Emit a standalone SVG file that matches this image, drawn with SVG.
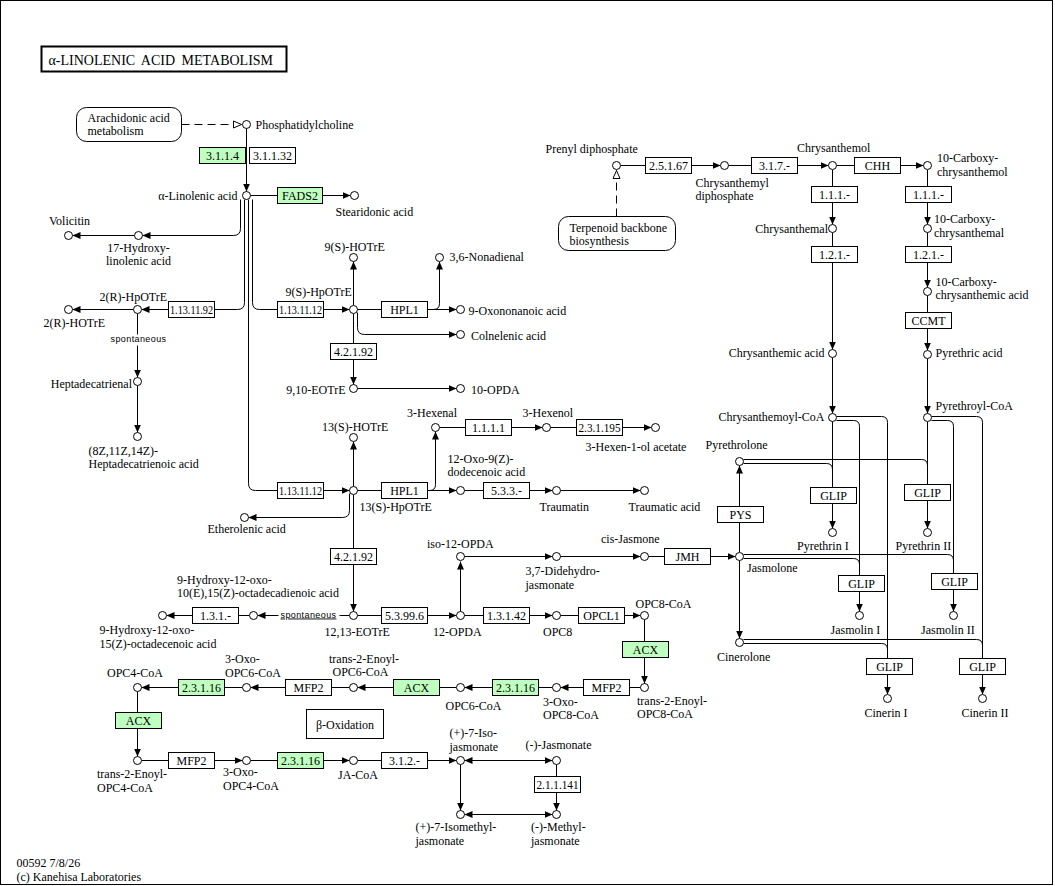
<svg xmlns="http://www.w3.org/2000/svg" width="1055" height="886" viewBox="0 0 1055 886">
<defs>
<marker id="ar" markerWidth="8" markerHeight="7" refX="8" refY="3.5" orient="auto-start-reverse" markerUnits="userSpaceOnUse"><path d="M0,0L8,3.5L0,7z" fill="#000"/></marker>
<marker id="op" markerWidth="10" markerHeight="9" refX="9" refY="4.5" orient="auto" markerUnits="userSpaceOnUse"><path d="M1,1L9,4.5L1,8z" fill="#fff" stroke="#000"/></marker>
</defs>
<style>
text{font-family:"Liberation Serif","Times New Roman",serif;font-size:12px;fill:#000}
.c{fill:#fff;stroke:#000;stroke-width:1}
.e{fill:#fff;stroke:#000;stroke-width:1}
.g{fill:#bfffbf;stroke:#000;stroke-width:1}
.t{text-anchor:middle}
.r{text-anchor:end}
.l{fill:none;stroke:#000;stroke-width:1}
.a{marker-end:url(#ar)}
.d{marker-start:url(#ar);marker-end:url(#ar)}
.dash{stroke-dasharray:8,5;marker-end:url(#op)}
.map{fill:#fff;stroke:#000;stroke-width:1}
.sp{font-family:"Liberation Sans",Arial,sans-serif;font-size:9px;letter-spacing:0.4px}
</style>
<rect x="0" y="0" width="1055" height="886" fill="#fff"/>
<g transform="translate(0.5,0.5)">
<rect x="0" y="0" width="1052" height="884" fill="none" stroke="#000"/>
<g id="title">
<rect x="41" y="46" width="245" height="25" fill="#fff" stroke="#000" stroke-width="2"/>
<text x="48" y="64" style="font-size:14px;word-spacing:3px">α-LINOLENIC ACID METABOLISM</text>
</g>
<g id="footer">
<text><tspan x="16" y="866.8">00592 7/8/26</tspan><tspan x="16" dy="13.4">(c) Kanehisa Laboratories</tspan></text>
</g>

<g id="connectors">
<path class="l dash" d="M181,124H241"/>
<path class="l dash" d="M616,216V170"/>
<path class="l a" d="M246,128V191"/>
<path class="l" d="M250,195H277"/><path class="l a" d="M322,195H350"/>
<path class="l a" d="M240,199V228Q240,235 233,235H142"/>
<path class="l a" d="M134,235H72"/>
<path class="l" d="M244,199V302Q244,309 237,309H214"/><path class="l a" d="M168,309H141"/>
<path class="l" d="M252,199V302Q252,309 259,309H277"/><path class="l a" d="M323,309H349"/>
<path class="l" d="M248,199V483Q248,490 255,490H277"/><path class="l a" d="M323,490H349"/>
<path class="l a" d="M133,309H72"/>
<path class="l" d="M137,313V334"/><path class="l a" d="M137,345V377"/>
<path class="l a" d="M137,385V432"/>
<path class="l a" d="M353,305V261"/>
<path class="l" d="M357,309H381"/><path class="l a" d="M427,309H456"/>
<path class="l a" d="M427,309H433Q439,309 439,303V261"/>
<path class="l a" d="M357,312V327Q357,334 364,334H456"/>
<path class="l" d="M353,313V343"/><path class="l a" d="M353,359V384"/>
<path class="l a" d="M357,388H456"/>
<path class="l a" d="M353,486V441"/>
<path class="l" d="M357,490H381"/><path class="l a" d="M427,490H456"/>
<path class="l a" d="M427,490H429Q435,490 435,484V431"/>
<path class="l a" d="M349,493V510Q349,517 342,517H248"/>
<path class="l" d="M353,494V548"/><path class="l a" d="M353,564V611"/>
<path class="l" d="M349,615H339"/><path class="l a" d="M278,615H257"/>
<path class="l" d="M249,615H238"/><path class="l a" d="M192,615H166"/>
<path class="l" d="M357,615H381"/><path class="l a" d="M427,615H456"/>
<path class="l a" d="M460,611V561"/>
<path class="l a" d="M464,556H552"/>
<path class="l a" d="M560,556H640"/>
<path class="l" d="M648,556H664"/><path class="l a" d="M710,556H735"/>
<path class="l" d="M739,552V522"/><path class="l a" d="M739,506V465"/>
<path class="l a" d="M739,560V638"/>
<path class="l" d="M439,427H465"/><path class="l a" d="M511,427H542"/>
<path class="l" d="M550,427H576"/><path class="l a" d="M622,427H651"/>
<path class="l" d="M464,490H483"/><path class="l a" d="M529,490H552"/>
<path class="l a" d="M560,490H640"/>
<path class="l" d="M464,615H483"/><path class="l a" d="M529,615H552"/>
<path class="l" d="M560,615H578"/><path class="l a" d="M624,615H640"/>
<path class="l" d="M644,619V641"/><path class="l a" d="M644,657V683"/>
<path class="l" d="M640,687H629"/><path class="l a" d="M583,687H560"/>
<path class="l" d="M552,687H538"/><path class="l a" d="M492,687H464"/>
<path class="l" d="M456,687H439"/><path class="l a" d="M393,687H357"/>
<path class="l" d="M349,687H331"/><path class="l a" d="M285,687H250"/>
<path class="l" d="M242,687H224"/><path class="l a" d="M178,687H141"/>
<path class="l" d="M137,691V712"/><path class="l a" d="M137,728V756"/>
<path class="l" d="M141,760H168"/><path class="l a" d="M214,760H242"/>
<path class="l" d="M250,760H277"/><path class="l a" d="M323,760H349"/>
<path class="l" d="M357,760H381"/><path class="l a" d="M427,760H456"/>
<path class="l d" d="M464,760H552"/>
<path class="l" d="M556,764V776"/><path class="l a" d="M556,792V810"/>
<path class="l a" d="M460,764V810"/>
<path class="l d" d="M464,814H552"/>
<path class="l" d="M620,165H645"/><path class="l a" d="M691,165H720"/>
<path class="l" d="M728,165H751"/><path class="l a" d="M797,165H828"/>
<path class="l" d="M836,165H854"/><path class="l a" d="M900,165H923"/>
<path class="l" d="M832,169V186"/><path class="l a" d="M832,202V224"/>
<path class="l" d="M832,232V246"/><path class="l a" d="M832,262V349"/>
<path class="l a" d="M832,357V413"/>
<path class="l" d="M927,169V186"/><path class="l a" d="M927,202V224"/>
<path class="l" d="M927,232V246"/><path class="l a" d="M927,262V287"/>
<path class="l" d="M927,295V312"/><path class="l a" d="M927,328V350"/>
<path class="l a" d="M927,358V413"/>
<path class="l" d="M832,421V487"/><path class="l a" d="M832,503V528"/>
<path class="l" d="M743,463H826Q832,463 832,469"/>
<path class="l" d="M743,459H921Q927,459 927,465"/>
<path class="l" d="M927,421V484"/><path class="l a" d="M927,500V528"/>
<path class="l" d="M836,420H853Q859,420 859,426V575"/><path class="l a" d="M859,591V611"/>
<path class="l" d="M836,416H881Q887,416 887,422V658"/><path class="l a" d="M887,674V694"/>
<path class="l" d="M743,558H853Q859,558 859,564"/>
<path class="l" d="M743,554H947Q953,554 953,560"/>
<path class="l" d="M931,420H947Q953,420 953,426V573"/><path class="l a" d="M953,589V611"/>
<path class="l" d="M931,416H976Q982,416 982,422V658"/><path class="l a" d="M982,674V694"/>
<path class="l" d="M743,643H881Q887,643 887,649"/>
<path class="l" d="M743,639H976Q982,639 982,645"/>
</g>

<g id="map_arachidonic"><rect class="map" x="76" y="107" width="105" height="34" rx="10"/><text><tspan x="87" y="121.5">Arachidonic acid</tspan><tspan x="87" dy="13.4">metabolism</tspan></text></g>
<g id="map_terpenoid"><rect class="map" x="558" y="216" width="117" height="34" rx="10"/><text><tspan x="569" y="231.5">Terpenoid backbone</tspan><tspan x="569" dy="13.4">biosynthesis</tspan></text></g>
<g id="map_betaox"><rect class="map" x="306" y="709" width="77" height="29"/><text class="t" x="344.5" y="728">β-Oxidation</text></g>

<g id="spont1"><text class="sp t" x="138" y="341.5">spontaneous</text></g>
<g id="spont2"><text class="sp" x="280" y="617" text-decoration="underline">spontaneous</text></g>

<g id="e_3.1.1.4"><rect class="g" x="199" y="147" width="46" height="16"/><text class="t" x="222" y="159.5">3.1.1.4</text></g>
<g id="e_3.1.1.32"><rect class="e" x="249" y="147" width="46" height="16"/><text class="t" x="272" y="159.5">3.1.1.32</text></g>
<g id="e_FADS2"><rect class="g" x="277" y="187" width="45" height="16"/><text class="t" x="299.5" y="199.5">FADS2</text></g>
<g id="e_1.13.11.92"><rect class="e" x="168" y="301" width="46" height="16"/><text class="t" x="191" y="313.5" textLength="43" lengthAdjust="spacingAndGlyphs">1.13.11.92</text></g>
<g id="e_1.13.11.12a"><rect class="e" x="277" y="301" width="46" height="16"/><text class="t" x="300" y="313.5" textLength="43" lengthAdjust="spacingAndGlyphs">1.13.11.12</text></g>
<g id="e_HPL1a"><rect class="e" x="381" y="301" width="46" height="16"/><text class="t" x="404" y="313.5">HPL1</text></g>
<g id="e_4.2.1.92a"><rect class="e" x="330" y="343" width="46" height="16"/><text class="t" x="353" y="355.5">4.2.1.92</text></g>
<g id="e_1.13.11.12b"><rect class="e" x="277" y="482" width="46" height="16"/><text class="t" x="300" y="494.5" textLength="43" lengthAdjust="spacingAndGlyphs">1.13.11.12</text></g>
<g id="e_HPL1b"><rect class="e" x="381" y="482" width="46" height="16"/><text class="t" x="404" y="494.5">HPL1</text></g>
<g id="e_4.2.1.92b"><rect class="e" x="330" y="548" width="46" height="16"/><text class="t" x="353" y="560.5">4.2.1.92</text></g>
<g id="e_1.1.1.1"><rect class="e" x="465" y="419" width="46" height="16"/><text class="t" x="488" y="431.5">1.1.1.1</text></g>
<g id="e_2.3.1.195"><rect class="e" x="576" y="419" width="46" height="16"/><text class="t" x="599" y="431.5" textLength="42" lengthAdjust="spacingAndGlyphs">2.3.1.195</text></g>
<g id="e_5.3.3.-"><rect class="e" x="483" y="482" width="46" height="16"/><text class="t" x="506" y="494.5">5.3.3.-</text></g>
<g id="e_1.3.1.-"><rect class="e" x="192" y="607" width="46" height="16"/><text class="t" x="215" y="619.5">1.3.1.-</text></g>
<g id="e_5.3.99.6"><rect class="e" x="381" y="607" width="46" height="16"/><text class="t" x="404" y="619.5">5.3.99.6</text></g>
<g id="e_1.3.1.42"><rect class="e" x="483" y="607" width="46" height="16"/><text class="t" x="506" y="619.5">1.3.1.42</text></g>
<g id="e_OPCL1"><rect class="e" x="578" y="607" width="46" height="16"/><text class="t" x="601" y="619.5">OPCL1</text></g>
<g id="e_ACX1"><rect class="g" x="622" y="641" width="46" height="16"/><text class="t" x="645" y="653.5">ACX</text></g>
<g id="e_MFP2a"><rect class="e" x="583" y="679" width="46" height="16"/><text class="t" x="606" y="691.5">MFP2</text></g>
<g id="e_2.3.1.16a"><rect class="g" x="492" y="679" width="46" height="16"/><text class="t" x="515" y="691.5">2.3.1.16</text></g>
<g id="e_ACX2"><rect class="g" x="393" y="679" width="46" height="16"/><text class="t" x="416" y="691.5">ACX</text></g>
<g id="e_MFP2b"><rect class="e" x="285" y="679" width="46" height="16"/><text class="t" x="308" y="691.5">MFP2</text></g>
<g id="e_2.3.1.16b"><rect class="g" x="178" y="679" width="46" height="16"/><text class="t" x="201" y="691.5">2.3.1.16</text></g>
<g id="e_ACX3"><rect class="g" x="115" y="712" width="46" height="16"/><text class="t" x="138" y="724.5">ACX</text></g>
<g id="e_MFP2c"><rect class="e" x="168" y="752" width="46" height="16"/><text class="t" x="191" y="764.5">MFP2</text></g>
<g id="e_2.3.1.16c"><rect class="g" x="277" y="752" width="46" height="16"/><text class="t" x="300" y="764.5">2.3.1.16</text></g>
<g id="e_3.1.2.-"><rect class="e" x="381" y="752" width="46" height="16"/><text class="t" x="404" y="764.5">3.1.2.-</text></g>
<g id="e_2.1.1.141"><rect class="e" x="534" y="776" width="46" height="16"/><text class="t" x="557" y="788.5" textLength="42" lengthAdjust="spacingAndGlyphs">2.1.1.141</text></g>
<g id="e_JMH"><rect class="e" x="664" y="548" width="46" height="16"/><text class="t" x="687" y="560.5">JMH</text></g>
<g id="e_PYS"><rect class="e" x="717" y="506" width="46" height="16"/><text class="t" x="740" y="518.5">PYS</text></g>
<g id="e_2.5.1.67"><rect class="e" x="645" y="157" width="46" height="16"/><text class="t" x="668" y="169.5">2.5.1.67</text></g>
<g id="e_3.1.7.-"><rect class="e" x="751" y="157" width="46" height="16"/><text class="t" x="774" y="169.5">3.1.7.-</text></g>
<g id="e_CHH"><rect class="e" x="854" y="157" width="46" height="16"/><text class="t" x="877" y="169.5">CHH</text></g>
<g id="e_1.1.1.-a"><rect class="e" x="811" y="186" width="46" height="16"/><text class="t" x="834" y="198.5">1.1.1.-</text></g>
<g id="e_1.2.1.-a"><rect class="e" x="811" y="246" width="46" height="16"/><text class="t" x="834" y="258.5">1.2.1.-</text></g>
<g id="e_1.1.1.-b"><rect class="e" x="905" y="186" width="46" height="16"/><text class="t" x="928" y="198.5">1.1.1.-</text></g>
<g id="e_1.2.1.-b"><rect class="e" x="905" y="246" width="46" height="16"/><text class="t" x="928" y="258.5">1.2.1.-</text></g>
<g id="e_CCMT"><rect class="e" x="905" y="312" width="46" height="16"/><text class="t" x="928" y="324.5">CCMT</text></g>
<g id="e_GLIP1"><rect class="e" x="810" y="487" width="46" height="16"/><text class="t" x="833" y="499.5">GLIP</text></g>
<g id="e_GLIP2"><rect class="e" x="904" y="484" width="46" height="16"/><text class="t" x="927" y="496.5">GLIP</text></g>
<g id="e_GLIP3"><rect class="e" x="838" y="575" width="46" height="16"/><text class="t" x="861" y="587.5">GLIP</text></g>
<g id="e_GLIP4"><rect class="e" x="931" y="573" width="46" height="16"/><text class="t" x="954" y="585.5">GLIP</text></g>
<g id="e_GLIP5"><rect class="e" x="866" y="658" width="46" height="16"/><text class="t" x="889" y="670.5">GLIP</text></g>
<g id="e_GLIP6"><rect class="e" x="959" y="658" width="46" height="16"/><text class="t" x="982" y="670.5">GLIP</text></g>

<g id="c_PC"><circle class="c" cx="246" cy="124" r="4"/><text x="255" y="128">Phosphatidylcholine</text></g>
<g id="c_ALA"><circle class="c" cx="246" cy="195" r="4"/><text class="r" x="237" y="199.5">α-Linolenic acid</text></g>
<g id="c_SDA"><circle class="c" cx="354" cy="195" r="4"/><text x="335" y="215">Stearidonic acid</text></g>
<g id="c_HL17"><circle class="c" cx="138" cy="235" r="4"/><text class="t"><tspan x="138" y="251">17-Hydroxy-</tspan><tspan x="138" dy="13.4">linolenic acid</tspan></text></g>
<g id="c_VOL"><circle class="c" cx="68" cy="235" r="4"/><text class="t" x="69" y="224">Volicitin</text></g>
<g id="c_HP2R"><circle class="c" cx="137" cy="309" r="4"/><text x="99" y="300">2(R)-HpOTrE</text></g>
<g id="c_HO2R"><circle class="c" cx="68" cy="309" r="4"/><text x="43" y="326.5">2(R)-HOTrE</text></g>
<g id="c_HEPT"><circle class="c" cx="137" cy="381" r="4"/><text class="r" x="131.5" y="387.5">Heptadecatrienal</text></g>
<g id="c_HEPTA"><circle class="c" cx="137" cy="436" r="4"/><text><tspan x="88" y="454.3">(8Z,11Z,14Z)-</tspan><tspan x="88" dy="13.4">Heptadecatrienoic acid</tspan></text></g>
<g id="c_HP9"><circle class="c" cx="353" cy="309" r="4"/><text x="285" y="295">9(S)-HpOTrE</text></g>
<g id="c_HO9"><circle class="c" cx="353" cy="257" r="4"/><text x="324" y="250">9(S)-HOTrE</text></g>
<g id="c_NON"><circle class="c" cx="439" cy="257" r="4"/><text x="449" y="260">3,6-Nonadienal</text></g>
<g id="c_OXN"><circle class="c" cx="460" cy="309" r="4"/><text x="468" y="314">9-Oxononanoic acid</text></g>
<g id="c_COL"><circle class="c" cx="460" cy="334" r="4"/><text x="470.5" y="339">Colnelenic acid</text></g>
<g id="c_EOT910"><circle class="c" cx="353" cy="388" r="4"/><text class="r" x="345" y="393">9,10-EOTrE</text></g>
<g id="c_OPDA10"><circle class="c" cx="460" cy="388" r="4"/><text x="470.5" y="393">10-OPDA</text></g>
<g id="c_HO13"><circle class="c" cx="353" cy="437" r="4"/><text x="321.5" y="430">13(S)-HOTrE</text></g>
<g id="c_HP13"><circle class="c" cx="353" cy="490" r="4"/><text x="359" y="510.5">13(S)-HpOTrE</text></g>
<g id="c_HEX"><circle class="c" cx="435" cy="427" r="4"/><text x="406.5" y="416.5">3-Hexenal</text></g>
<g id="c_HXOL"><circle class="c" cx="546" cy="427" r="4"/><text x="522" y="416.5">3-Hexenol</text></g>
<g id="c_HXAC"><circle class="c" cx="655" cy="427" r="4"/><text x="585" y="450">3-Hexen-1-ol acetate</text></g>
<g id="c_OXD"><circle class="c" cx="460" cy="490" r="4"/><text><tspan x="447" y="462.5">12-Oxo-9(Z)-</tspan><tspan x="447" dy="13.4">dodecenoic acid</tspan></text></g>
<g id="c_TRA"><circle class="c" cx="556" cy="490" r="4"/><text x="539" y="510">Traumatin</text></g>
<g id="c_TRAC"><circle class="c" cx="644" cy="490" r="4"/><text x="628" y="510">Traumatic acid</text></g>
<g id="c_ETH"><circle class="c" cx="244" cy="517" r="4"/><text x="207" y="532.5">Etherolenic acid</text></g>
<g id="c_EOT1213"><circle class="c" cx="353" cy="615" r="4"/><text x="324" y="635">12,13-EOTrE</text></g>
<g id="c_HX1"><circle class="c" cx="253" cy="615" r="4"/><text><tspan x="176.5" y="583">9-Hydroxy-12-oxo-</tspan><tspan x="176.5" dy="13.4">10(E),15(Z)-octadecadienoic acid</tspan></text></g>
<g id="c_HX2"><circle class="c" cx="162" cy="615" r="4"/><text><tspan x="99" y="633.8">9-Hydroxy-12-oxo-</tspan><tspan x="99" dy="13.4">15(Z)-octadecenoic acid</tspan></text></g>
<g id="c_OPDA12"><circle class="c" cx="460" cy="615" r="4"/><text x="432.5" y="635">12-OPDA</text></g>
<g id="c_ISO"><circle class="c" cx="460" cy="556" r="4"/><text x="426.5" y="547">iso-12-OPDA</text></g>
<g id="c_DDJ"><circle class="c" cx="556" cy="556" r="4"/><text><tspan x="525" y="574.8">3,7-Didehydro-</tspan><tspan x="525" dy="13.4">jasmonate</tspan></text></g>
<g id="c_CJ"><circle class="c" cx="644" cy="556" r="4"/><text x="600.5" y="542.5">cis-Jasmone</text></g>
<g id="c_JAS"><circle class="c" cx="739" cy="556" r="4"/><text x="746.5" y="571.5">Jasmolone</text></g>
<g id="c_PYR"><circle class="c" cx="739" cy="461" r="4"/><text x="705" y="448">Pyrethrolone</text></g>
<g id="c_CIN"><circle class="c" cx="739" cy="642" r="4"/><text x="716.5" y="660">Cinerolone</text></g>
<g id="c_OPC8"><circle class="c" cx="556" cy="615" r="4"/><text x="542.5" y="635">OPC8</text></g>
<g id="c_OPC8C"><circle class="c" cx="644" cy="615" r="4"/><text x="635" y="607">OPC8-CoA</text></g>
<g id="c_T2E8"><circle class="c" cx="644" cy="687" r="4"/><text><tspan x="636.5" y="704.3">trans-2-Enoyl-</tspan><tspan x="636.5" dy="13.4">OPC8-CoA</tspan></text></g>
<g id="c_OX8"><circle class="c" cx="556" cy="687" r="4"/><text><tspan x="542.5" y="705.3">3-Oxo-</tspan><tspan x="542.5" dy="13.4">OPC8-CoA</tspan></text></g>
<g id="c_OPC6C"><circle class="c" cx="460" cy="687" r="4"/><text x="445" y="709">OPC6-CoA</text></g>
<g id="c_T2E6"><circle class="c" cx="353" cy="687" r="4"/><text><tspan x="328.5" y="662.3">trans-2-Enoyl-</tspan><tspan x="332" dy="13.4">OPC6-CoA</tspan></text></g>
<g id="c_OX6"><circle class="c" cx="246" cy="687" r="4"/><text><tspan x="224.5" y="662.8">3-Oxo-</tspan><tspan x="224.5" dy="13.4">OPC6-CoA</tspan></text></g>
<g id="c_OPC4C"><circle class="c" cx="137" cy="687" r="4"/><text x="106.5" y="676.5">OPC4-CoA</text></g>
<g id="c_T2E4"><circle class="c" cx="137" cy="760" r="4"/><text><tspan x="96.5" y="777.8">trans-2-Enoyl-</tspan><tspan x="96.5" dy="13.4">OPC4-CoA</tspan></text></g>
<g id="c_OX4"><circle class="c" cx="246" cy="760" r="4"/><text><tspan x="222.5" y="775.8">3-Oxo-</tspan><tspan x="222.5" dy="13.4">OPC4-CoA</tspan></text></g>
<g id="c_JACOA"><circle class="c" cx="353" cy="760" r="4"/><text x="337.5" y="778">JA-CoA</text></g>
<g id="c_IJA"><circle class="c" cx="460" cy="760" r="4"/><text><tspan x="449" y="736.8">(+)-7-Iso-</tspan><tspan x="449" dy="13.4">jasmonate</tspan></text></g>
<g id="c_MJA"><circle class="c" cx="556" cy="760" r="4"/><text x="525" y="748">(-)-Jasmonate</text></g>
<g id="c_IMJA"><circle class="c" cx="460" cy="814" r="4"/><text><tspan x="415" y="830.8">(+)-7-Isomethyl-</tspan><tspan x="415" dy="13.4">jasmonate</tspan></text></g>
<g id="c_MMJA"><circle class="c" cx="556" cy="814" r="4"/><text><tspan x="530.5" y="830.8">(-)-Methyl-</tspan><tspan x="530.5" dy="13.4">jasmonate</tspan></text></g>
<g id="c_PRE"><circle class="c" cx="616" cy="165" r="4"/><text x="545" y="152.5">Prenyl diphosphate</text></g>
<g id="c_CDP"><circle class="c" cx="724" cy="165" r="4"/><text><tspan x="695" y="186">Chrysanthemyl</tspan><tspan x="695" dy="13.4">diphosphate</tspan></text></g>
<g id="c_CHOL"><circle class="c" cx="832" cy="165" r="4"/><text x="796.5" y="151.5">Chrysanthemol</text></g>
<g id="c_CCOL"><circle class="c" cx="927" cy="165" r="4"/><text><tspan x="936.5" y="161.8">10-Carboxy-</tspan><tspan x="936.5" dy="13.4">chrysanthemol</tspan></text></g>
<g id="c_CHAL"><circle class="c" cx="832" cy="228" r="4"/><text class="r" x="827.5" y="232">Chrysanthemal</text></g>
<g id="c_CCAL"><circle class="c" cx="927" cy="228" r="4"/><text><tspan x="933.5" y="222.8">10-Carboxy-</tspan><tspan x="933.5" dy="13.4">chrysanthemal</tspan></text></g>
<g id="c_CCAC"><circle class="c" cx="927" cy="291" r="4"/><text><tspan x="935" y="285.5">10-Carboxy-</tspan><tspan x="935" dy="13.4">chrysanthemic acid</tspan></text></g>
<g id="c_CHAC"><circle class="c" cx="832" cy="353" r="4"/><text class="r" x="824" y="356">Chrysanthemic acid</text></g>
<g id="c_PYAC"><circle class="c" cx="927" cy="354" r="4"/><text x="935" y="356.5">Pyrethric acid</text></g>
<g id="c_CHCOA"><circle class="c" cx="832" cy="417" r="4"/><text class="r" x="824" y="420">Chrysanthemoyl-CoA</text></g>
<g id="c_PYCOA"><circle class="c" cx="927" cy="417" r="4"/><text x="935" y="409">Pyrethroyl-CoA</text></g>
<g id="c_PY1"><circle class="c" cx="832" cy="532" r="4"/><text x="796.5" y="549">Pyrethrin I</text></g>
<g id="c_PY2"><circle class="c" cx="927" cy="532" r="4"/><text x="895" y="549">Pyrethrin II</text></g>
<g id="c_JM1"><circle class="c" cx="859" cy="615" r="4"/><text x="830" y="633">Jasmolin I</text></g>
<g id="c_JM2"><circle class="c" cx="953" cy="615" r="4"/><text x="920.5" y="633">Jasmolin II</text></g>
<g id="c_CN1"><circle class="c" cx="887" cy="698" r="4"/><text x="864" y="716.5">Cinerin I</text></g>
<g id="c_CN2"><circle class="c" cx="982" cy="698" r="4"/><text x="961" y="716.5">Cinerin II</text></g>
</g>
</svg>
